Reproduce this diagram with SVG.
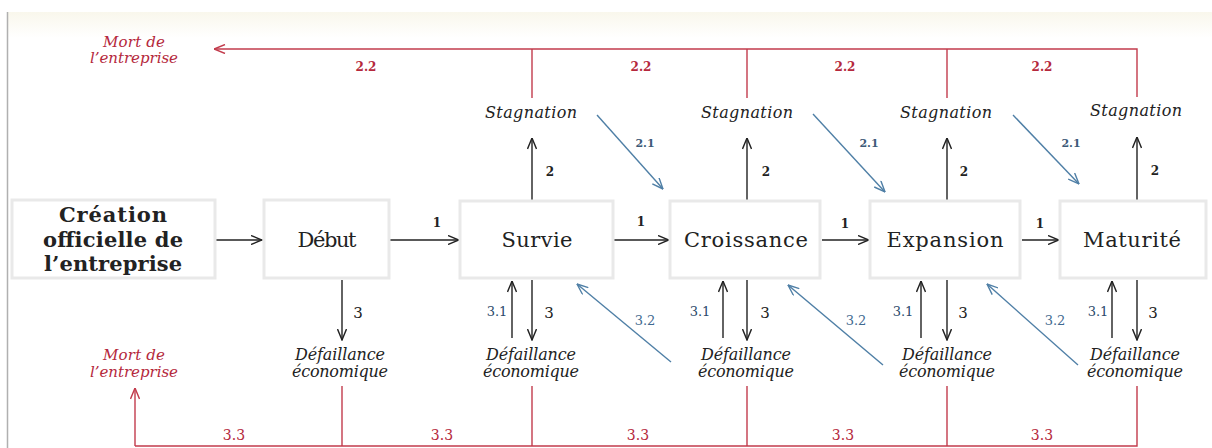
<svg xmlns="http://www.w3.org/2000/svg" width="1212" height="448" viewBox="0 0 1212 448">
  <defs>
    <linearGradient id="band" x1="0" y1="0" x2="0" y2="1">
      <stop offset="0" stop-color="#f9f7ec"/>
      <stop offset="1" stop-color="#ffffff"/>
    </linearGradient>
    <marker id="ah-k" viewBox="0 0 12 10" refX="11.5" refY="5" markerWidth="12" markerHeight="10" markerUnits="userSpaceOnUse" orient="auto">
      <path d="M0.5,0.5 L11.5,5 L0.5,9.5" fill="none" stroke="#222" stroke-width="1.4"/>
    </marker>
    <marker id="ah-r" viewBox="0 0 12 10" refX="11.5" refY="5" markerWidth="12" markerHeight="10" markerUnits="userSpaceOnUse" orient="auto">
      <path d="M0.5,0.5 L11.5,5 L0.5,9.5" fill="none" stroke="#c23b4c" stroke-width="1.4"/>
    </marker>
    <marker id="ah-b" viewBox="0 0 12 10" refX="11.5" refY="5" markerWidth="12" markerHeight="10" markerUnits="userSpaceOnUse" orient="auto">
      <path d="M0.5,0.5 L11.5,5 L0.5,9.5" fill="none" stroke="#4f7fa6" stroke-width="1.4"/>
    </marker>
  </defs>
  <style>
    .box { fill: #ffffff; stroke: #e9e9e9; stroke-width: 3; }
    .stage { font-family: "DejaVu Serif", "Liberation Serif", serif; font-size: 21px; fill: #222; text-anchor: middle; }
    .origin { font-family: "DejaVu Serif", "Liberation Serif", serif; font-size: 21px; font-weight: bold; fill: #222; text-anchor: middle; }
    .state { font-family: "DejaVu Serif", "Liberation Serif", serif; font-size: 16px; font-style: italic; fill: #222; text-anchor: middle; }
    .death { font-family: "DejaVu Serif", "Liberation Serif", serif; font-size: 15px; font-style: italic; fill: #b5283c; text-anchor: middle; }
    .num { font-family: "DejaVu Serif", "Liberation Serif", serif; text-anchor: middle; }
    .n1 { font-size: 12px; font-weight: bold; fill: #222; }
    .n3 { font-size: 15px; fill: #222; }
    .n31 { font-size: 13px; fill: #2b4a6a; }
    .n21 { font-size: 11px; font-weight: bold; fill: #3d5a78; }
    .n32 { font-size: 13px; fill: #3f6a90; }
    .n22 { font-size: 12px; font-weight: bold; fill: #b5283c; }
    .n33 { font-size: 14px; fill: #b5283c; }
    .k { stroke: #222; stroke-width: 1.4; fill: none; marker-end: url(#ah-k); }
    .r { stroke: #c23b4c; stroke-width: 1.4; fill: none; }
    .ra { stroke: #c23b4c; stroke-width: 1.4; fill: none; marker-end: url(#ah-r); }
    .b { stroke: #4f7fa6; stroke-width: 1.4; fill: none; marker-end: url(#ah-b); }
  </style>

  <!-- page background, top band and left margin rule -->
  <rect x="0" y="0" width="1212" height="448" fill="#ffffff"/>
  <rect x="8" y="12" width="1204" height="26" fill="url(#band)"/>
  <line x1="7.5" y1="12" x2="7.5" y2="448" stroke="#b0b0b0" stroke-width="1.5"/>

  <!-- connectors -->
  <g id="connectors">
    <!-- 1: stage to stage -->
    <line class="k" x1="216" y1="240" x2="262" y2="240"/>
    <line class="k" x1="390" y1="240" x2="459" y2="240"/>
    <line class="k" x1="614" y1="240" x2="669" y2="240"/>
    <line class="k" x1="822" y1="240" x2="869" y2="240"/>
    <line class="k" x1="1022" y1="240" x2="1059" y2="240"/>
    <!-- 2: stage to stagnation -->
    <line class="k" x1="532" y1="200" x2="532" y2="138"/>
    <line class="k" x1="747" y1="200" x2="747" y2="138"/>
    <line class="k" x1="947" y1="200" x2="947" y2="138"/>
    <line class="k" x1="1137" y1="200" x2="1137" y2="137"/>
    <!-- 2.1: stagnation to next stage -->
    <line class="b" x1="597" y1="115" x2="663" y2="189"/>
    <line class="b" x1="813" y1="114" x2="885" y2="192"/>
    <line class="b" x1="1013" y1="115" x2="1079" y2="184"/>
    <!-- 2.2: stagnation to closure -->
    <polyline class="r" points="532,98 532,49"/>
    <polyline class="r" points="747,98 747,49"/>
    <polyline class="r" points="947,98 947,49"/>
    <polyline class="r" points="1137,97 1137,49 532,49"/>
    <line class="ra" x1="532" y1="49" x2="214" y2="49"/>
    <!-- 3: stage to economic failure -->
    <line class="k" x1="342" y1="280" x2="342" y2="340"/>
    <line class="k" x1="532" y1="280" x2="532" y2="340"/>
    <line class="k" x1="747" y1="280" x2="747" y2="340"/>
    <line class="k" x1="947" y1="280" x2="947" y2="340"/>
    <line class="k" x1="1137" y1="280" x2="1137" y2="340"/>
    <!-- 3.1: recovery -->
    <line class="k" x1="512" y1="338" x2="512" y2="281"/>
    <line class="k" x1="723" y1="338" x2="723" y2="281"/>
    <line class="k" x1="921" y1="338" x2="921" y2="281"/>
    <line class="k" x1="1112" y1="338" x2="1112" y2="281"/>
    <!-- 3.2: step back to previous stage -->
    <line class="b" x1="671" y1="362" x2="577" y2="284"/>
    <line class="b" x1="883" y1="365" x2="788" y2="285"/>
    <line class="b" x1="1078" y1="365" x2="987" y2="284"/>
    <!-- 3.3: failure to closure -->
    <polyline class="r" points="342,386 342,446"/>
    <polyline class="r" points="532,386 532,446"/>
    <polyline class="r" points="747,386 747,446"/>
    <polyline class="r" points="947,386 947,446"/>
    <polyline class="r" points="1137,386 1137,446 135,446"/>
    <line class="ra" x1="135" y1="446" x2="135" y2="388"/>
  </g>

  <!-- connector labels -->
  <g id="labels">
    <text class="num n1" x="437" y="227">1</text>
    <text class="num n1" x="641" y="226">1</text>
    <text class="num n1" x="845" y="228">1</text>
    <text class="num n1" x="1040" y="228">1</text>

    <text class="num n1" x="550" y="176">2</text>
    <text class="num n1" x="766" y="176">2</text>
    <text class="num n1" x="964" y="176">2</text>
    <text class="num n1" x="1155" y="175">2</text>

    <text class="num n21" x="645" y="147">2.1</text>
    <text class="num n21" x="869" y="147">2.1</text>
    <text class="num n21" x="1071" y="147">2.1</text>

    <text class="num n22" x="366" y="71">2.2</text>
    <text class="num n22" x="641" y="71">2.2</text>
    <text class="num n22" x="845" y="71">2.2</text>
    <text class="num n22" x="1042" y="71">2.2</text>

    <text class="num n3" x="358" y="318">3</text>
    <text class="num n3" x="549" y="318">3</text>
    <text class="num n3" x="765" y="318">3</text>
    <text class="num n3" x="963" y="318">3</text>
    <text class="num n3" x="1153" y="318">3</text>

    <text class="num n31" x="497" y="316">3.1</text>
    <text class="num n31" x="700" y="316">3.1</text>
    <text class="num n31" x="903" y="316">3.1</text>
    <text class="num n31" x="1098" y="316">3.1</text>

    <text class="num n32" x="645" y="325">3.2</text>
    <text class="num n32" x="856" y="325">3.2</text>
    <text class="num n32" x="1055" y="325">3.2</text>

    <text class="num n33" x="234" y="440">3.3</text>
    <text class="num n33" x="442" y="440">3.3</text>
    <text class="num n33" x="638" y="440">3.3</text>
    <text class="num n33" x="843" y="440">3.3</text>
    <text class="num n33" x="1042" y="440">3.3</text>
  </g>

  <!-- closure (top and bottom) -->
  <g id="death-top">
    <text class="death" x="134" y="47" textLength="62" lengthAdjust="spacing">Mort de</text>
    <text class="death" x="134" y="63" textLength="88" lengthAdjust="spacing">l’entreprise</text>
  </g>
  <g id="death-bottom">
    <text class="death" x="134" y="360" textLength="62" lengthAdjust="spacing">Mort de</text>
    <text class="death" x="134" y="377" textLength="88" lengthAdjust="spacing">l’entreprise</text>
  </g>

  <!-- origin -->
  <g id="creation">
    <rect class="box" x="12" y="200" width="203" height="78"/>
    <text class="origin" x="113" y="222" textLength="108" lengthAdjust="spacing">Création</text>
    <text class="origin" x="113" y="247" textLength="140" lengthAdjust="spacing">officielle de</text>
    <text class="origin" x="113" y="271" textLength="138" lengthAdjust="spacing">l’entreprise</text>
  </g>

  <!-- life-cycle stages -->
  <g id="debut">
    <rect class="box" x="264" y="200" width="125" height="78"/>
    <text class="stage" x="327" y="247" textLength="59" lengthAdjust="spacing">Début</text>
  </g>
  <g id="survie">
    <rect class="box" x="460" y="201" width="153" height="77"/>
    <text class="stage" x="537" y="247" textLength="71" lengthAdjust="spacing">Survie</text>
  </g>
  <g id="croissance">
    <rect class="box" x="670" y="201" width="150" height="77"/>
    <text class="stage" x="746" y="247" textLength="124" lengthAdjust="spacing">Croissance</text>
  </g>
  <g id="expansion">
    <rect class="box" x="870" y="201" width="150" height="77"/>
    <text class="stage" x="945" y="247" textLength="117" lengthAdjust="spacing">Expansion</text>
  </g>
  <g id="maturite">
    <rect class="box" x="1060" y="201" width="146" height="77"/>
    <text class="stage" x="1132" y="247" textLength="98" lengthAdjust="spacing">Maturité</text>
  </g>

  <!-- stagnation states -->
  <g id="stagnation-survie"><text class="state" x="531" y="118" textLength="92" lengthAdjust="spacing">Stagnation</text></g>
  <g id="stagnation-croissance"><text class="state" x="747" y="118" textLength="92" lengthAdjust="spacing">Stagnation</text></g>
  <g id="stagnation-expansion"><text class="state" x="946" y="118" textLength="92" lengthAdjust="spacing">Stagnation</text></g>
  <g id="stagnation-maturite"><text class="state" x="1136" y="116" textLength="92" lengthAdjust="spacing">Stagnation</text></g>

  <!-- economic failure states -->
  <g id="defaillance-debut">
    <text class="state" x="340" y="360" textLength="90" lengthAdjust="spacing">Défaillance</text>
    <text class="state" x="340" y="377" textLength="96" lengthAdjust="spacing">économique</text>
  </g>
  <g id="defaillance-survie">
    <text class="state" x="531" y="360" textLength="90" lengthAdjust="spacing">Défaillance</text>
    <text class="state" x="531" y="377" textLength="96" lengthAdjust="spacing">économique</text>
  </g>
  <g id="defaillance-croissance">
    <text class="state" x="746" y="360" textLength="90" lengthAdjust="spacing">Défaillance</text>
    <text class="state" x="746" y="377" textLength="96" lengthAdjust="spacing">économique</text>
  </g>
  <g id="defaillance-expansion">
    <text class="state" x="947" y="360" textLength="90" lengthAdjust="spacing">Défaillance</text>
    <text class="state" x="947" y="377" textLength="96" lengthAdjust="spacing">économique</text>
  </g>
  <g id="defaillance-maturite">
    <text class="state" x="1135" y="360" textLength="90" lengthAdjust="spacing">Défaillance</text>
    <text class="state" x="1135" y="377" textLength="96" lengthAdjust="spacing">économique</text>
  </g>
</svg>
